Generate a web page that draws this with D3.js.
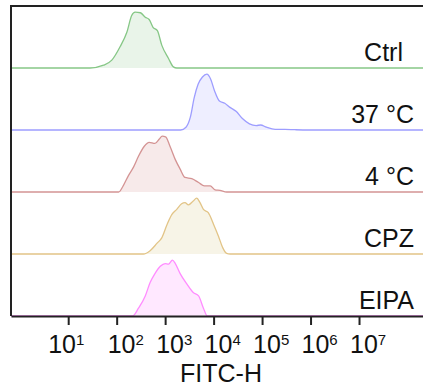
<!DOCTYPE html>
<html>
<head>
<meta charset="utf-8">
<script src="https://cdn.jsdelivr.net/npm/d3@7"></script>
<style>
  body { margin: 0; background: #fff; }
  text { font-family: "Liberation Sans", Arial, sans-serif; fill: #111; }
</style>
</head>
<body>
<div class="fig"></div>
<script>
// sample names, top to bottom
var samples = ["Ctrl", "37 °C", "4 °C", "CPZ", "EIPA"];
var strokes = ["#86c786", "#9d9dff", "#d49494", "#e2c487", "#ff8cff"];
var fills   = ["#e9f4e9", "#eeeeff", "#f7eaea", "#f7f4e7", "#ffe8ff"];

// histogram outlines: log10(FITC-H) and % of max count
var ctrlLog = [1.45, 1.73, 1.90, 2.07, 2.21, 2.31, 2.38, 2.49, 2.59, 2.67, 2.75, 2.84, 2.93, 3.07, 3.17, 3.24];
var ctrlPct = [0, 5, 14, 38, 64, 94, 100, 99, 91, 87, 73, 67, 41, 17, 2, 0];

var warmLog = [3.32, 3.43, 3.52, 3.60, 3.68, 3.77, 3.86, 3.94, 4.02, 4.12, 4.23, 4.33, 4.47, 4.60, 4.74, 4.88, 4.97, 5.09, 5.27, 5.47, 5.68, 5.95];
var warmPct = [0, 5, 23, 58, 82, 95, 100, 91, 70, 52, 48, 41, 33, 20, 11, 8, 9, 5, 1.2, 1.2, 0.5, 0];

var coldLog = [2.04, 2.14, 2.24, 2.35, 2.45, 2.57, 2.67, 2.79, 2.88, 2.94, 3.01, 3.10, 3.21, 3.31, 3.41, 3.55, 3.69, 3.81, 3.93, 4.03, 4.13, 4.27];
var coldPct = [0, 12, 29, 45, 64, 82, 89, 87, 95, 100, 99, 82, 58, 41, 26, 24, 17, 11, 11, 4, 3, 0];

var cpzLog = [2.55, 2.69, 2.83, 2.93, 3.04, 3.14, 3.24, 3.34, 3.41, 3.48, 3.58, 3.65, 3.72, 3.79, 3.89, 4.00, 4.10, 4.19, 4.27, 4.34];
var cpzPct = [0, 6, 19, 29, 53, 71, 80, 90, 92, 88, 95, 100, 92, 80, 74, 53, 32, 11, 1, 0];

var eipaLog = [2.33, 2.45, 2.59, 2.69, 2.79, 2.90, 3.00, 3.07, 3.15, 3.21, 3.31, 3.45, 3.58, 3.69, 3.79, 3.87];
var eipaPct = [0, 14, 36, 60, 76, 89, 94, 93, 100, 94, 76, 57, 42, 36, 14, 0];

var tickExps = [1, 2, 3, 4, 5, 6, 7];

var series = [[ctrlLog, ctrlPct], [warmLog, warmPct], [coldLog, coldPct], [cpzLog, cpzPct], [eipaLog, eipaPct]];

var W = 423, H = 392;
var plotL = 11, plotT = 6, plotB = 316;

var svg = d3.select(".fig").append("svg")
    .attr("width", W)
    .attr("height", H);

var x = d3.scaleLog()
    .domain([Math.pow(10, -0.18), Math.pow(10, 8.32)])
    .range([plotL, W]);

var rows = d3.scaleBand()
    .domain(samples)
    .range([plotT, plotB]);

samples.forEach(function(name, i) {
  var base = rows(name) + rows.bandwidth();
  var y = d3.scaleLinear()
      .domain([0, 100])
      .range([base, base - rows.bandwidth() * 0.9]);

  var pts = series[i][0].map(function(e, j) {
    return { v: Math.pow(10, e), c: series[i][1][j] };
  });
  var dom = x.domain();
  pts = [{ v: dom[0], c: 0 }].concat(pts, [{ v: dom[1], c: 0 }]);

  var area = d3.area()
      .x(function(d) { return x(d.v); })
      .y0(base)
      .y1(function(d) { return y(d.c); })
      .curve(d3.curveMonotoneX);
  var line = d3.line()
      .x(function(d) { return x(d.v); })
      .y(function(d) { return y(d.c); })
      .curve(d3.curveMonotoneX);

  svg.append("path")
      .attr("d", area(pts))
      .attr("fill", fills[i]);
  svg.append("path")
      .attr("d", line(pts))
      .attr("fill", "none")
      .attr("stroke", strokes[i])
      .attr("stroke-width", 1.3);

  // Ctrl sits a little further in than the others
  svg.append("text")
      .attr("x", i === 0 ? 403 : 414)
      .attr("y", base - 7)
      .attr("text-anchor", "end")
      .style("font-size", "25px")
      .text(name);
});

// frame: left and top edges
svg.append("line")
    .attr("x1", plotL).attr("x2", plotL)
    .attr("y1", plotT - 1).attr("y2", plotB)
    .attr("stroke", "#222").attr("stroke-width", 2);
svg.append("line")
    .attr("x1", plotL).attr("x2", W)
    .attr("y1", plotT).attr("y2", plotT)
    .attr("stroke", "#222").attr("stroke-width", 2);

var ax = svg.append("g")
    .attr("transform", "translate(0," + plotB + ")")
    .call(d3.axisBottom(x)
      .tickValues(tickExps.map(function(e) { return Math.pow(10, e); }))
      .tickSize(9)
      .tickSizeOuter(0)
      .tickFormat(""));
ax.select(".domain").attr("stroke", "#222").attr("stroke-width", 2);
ax.selectAll(".tick line").attr("stroke", "#222").attr("stroke-width", 2);

var lab = svg.append("g").selectAll("text")
    .data(tickExps)
    .enter().append("text")
    .attr("x", function(d, i) { return x(Math.pow(10, d)) - (i === 0 ? 20 : 9); })
    .attr("y", 353)
    .style("font-size", "25px");
lab.append("tspan").text("10");
lab.append("tspan")
    .attr("dy", -8)
    .style("font-size", "15px")
    .text(function(d) { return d; });

svg.append("text")
    .attr("x", (plotL + W) / 2 + 4)
    .attr("y", 382)
    .attr("text-anchor", "middle")
    .style("font-size", "25px")
    .text("FITC-H");
</script>
</body>
</html>
